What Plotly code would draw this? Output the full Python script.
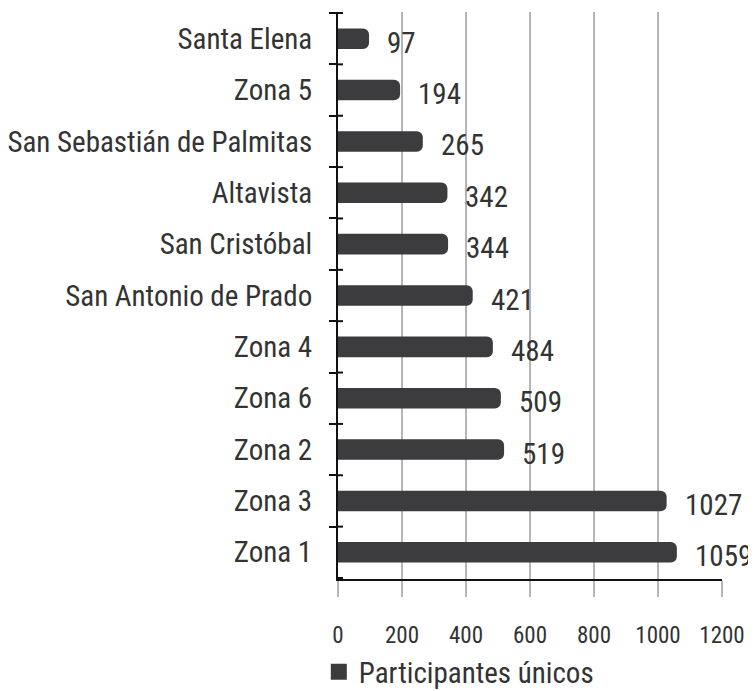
import plotly.graph_objects as go

categories = ["Santa Elena", "Zona 5", "San Sebastián de Palmitas", "Altavista",
              "San Cristóbal", "San Antonio de Prado", "Zona 4", "Zona 6",
              "Zona 2", "Zona 3", "Zona 1"]
values = [97, 194, 265, 342, 344, 421, 484, 509, 519, 1027, 1059]
series_name = "Participantes únicos"
x_ticks = [0, 200, 400, 600, 800, 1000, 1200]

FONT = "Roboto Condensed, Liberation Sans Narrow, DejaVu Sans Condensed, sans-serif"
BAR = "#3c3c3f"
TXT = "#333333"

fig = go.Figure()
fig.add_trace(go.Bar(
    x=values, y=categories, orientation="h", name=series_name,
    marker=dict(color=BAR, cornerradius=6, line=dict(width=0)),
    width=0.4, showlegend=False, legendgroup="s",
))
# legend entry with a larger square swatch
fig.add_trace(go.Scatter(
    x=[None], y=[None], mode="markers", name=series_name, legendgroup="s",
    marker=dict(symbol="square", size=16, color=BAR), showlegend=True,
))

for c, v in zip(categories, values):
    fig.add_annotation(x=v, y=c, text=str(v), showarrow=False, xanchor="left",
                       xshift=16, yshift=-4, font=dict(family=FONT, size=29, color=TXT))

# inner parts of the y-axis crossing ticks
n = len(categories)
for i in range(n + 1):
    fig.add_shape(type="line", xref="x", yref="y", xsizemode="pixel", xanchor=0,
                  x0=0, x1=5, y0=i - 0.5, y1=i - 0.5,
                  line=dict(color="#111111", width=2))

# the page body has an 8px default margin, so the figure is drawn 8px smaller
fig.update_layout(
    width=748, height=683,
    margin=dict(l=330, r=34, t=4, b=112, autoexpand=False),
    paper_bgcolor="white", plot_bgcolor="white",
    font=dict(family=FONT, color=TXT),
    legend=dict(orientation="h", x=-0.05, xanchor="left", y=-0.164, yanchor="middle",
                font=dict(family=FONT, size=29, color=TXT), itemwidth=30,
                bgcolor="rgba(0,0,0,0)"),
    xaxis=dict(range=[0, 1200], tickvals=x_ticks, ticktext=[str(t) for t in x_ticks],
               showgrid=True, gridcolor="#b5b5b5", gridwidth=1.5, zeroline=False,
               showline=True, linecolor="#111111", linewidth=2, automargin=False,
               ticks="outside", ticklen=16, tickcolor="#b5b5b5", tickwidth=1.5,
               ticklabelstandoff=18, tickfont=dict(family=FONT, size=23, color=TXT)),
    yaxis=dict(categoryorder="array", categoryarray=categories, autorange="reversed",
               showline=True, linecolor="#111111", linewidth=2, showgrid=False,
               automargin=False,
               ticks="outside", tickson="boundaries", ticklen=7, tickcolor="#111111",
               tickwidth=2, ticklabelstandoff=18,
               tickfont=dict(family=FONT, size=29, color=TXT)),
)

fig.write_html("out.html")
